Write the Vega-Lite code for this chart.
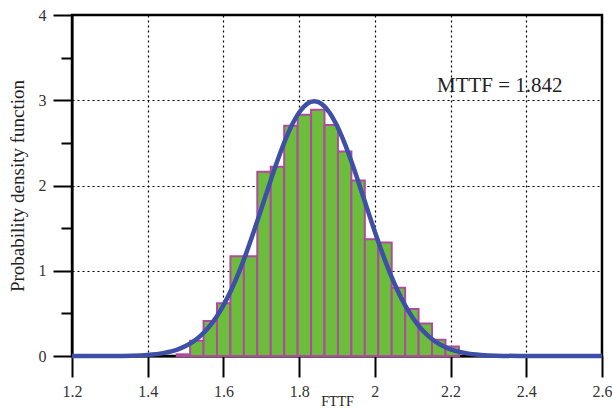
{
  "$schema": "https://vega.github.io/schema/vega-lite/v6.json",
  "width": 530,
  "height": 341,
  "autosize": {"type": "none"},
  "padding": {"left": 72, "top": 15, "right": 10, "bottom": 56},
  "background": "white",
  "config": {
    "font": "Liberation Serif",
    "view": {"stroke": "black", "strokeWidth": 2.5},
    "axis": {
      "domainColor": "black",
      "domainWidth": 2,
      "tickColor": "black",
      "tickWidth": 2,
      "labelFont": "Liberation Serif",
      "labelFontSize": 16,
      "labelColor": "#333",
      "titleFont": "Liberation Serif",
      "titleFontWeight": "normal",
      "titleColor": "#222",
      "gridColor": "black",
      "gridDash": [2, 3],
      "gridWidth": 1.2
    }
  },
  "datasets": {
    "histogram": [
      {"lo": 1.4765, "hi": 1.512, "density": 0.02},
      {"lo": 1.512, "hi": 1.5475, "density": 0.18},
      {"lo": 1.5475, "hi": 1.583, "density": 0.41},
      {"lo": 1.583, "hi": 1.6185, "density": 0.62},
      {"lo": 1.6185, "hi": 1.654, "density": 1.17},
      {"lo": 1.654, "hi": 1.6895, "density": 1.17},
      {"lo": 1.6895, "hi": 1.725, "density": 2.16},
      {"lo": 1.725, "hi": 1.7605, "density": 2.22},
      {"lo": 1.7605, "hi": 1.796, "density": 2.70},
      {"lo": 1.796, "hi": 1.8315, "density": 2.83},
      {"lo": 1.8315, "hi": 1.867, "density": 2.89},
      {"lo": 1.867, "hi": 1.9025, "density": 2.71},
      {"lo": 1.9025, "hi": 1.938, "density": 2.40},
      {"lo": 1.938, "hi": 1.9735, "density": 2.06},
      {"lo": 1.9735, "hi": 2.009, "density": 1.37},
      {"lo": 2.009, "hi": 2.0445, "density": 1.33},
      {"lo": 2.0445, "hi": 2.08, "density": 0.80},
      {"lo": 2.08, "hi": 2.1155, "density": 0.55},
      {"lo": 2.1155, "hi": 2.151, "density": 0.38},
      {"lo": 2.151, "hi": 2.1865, "density": 0.19},
      {"lo": 2.1865, "hi": 2.222, "density": 0.11}
    ],
    "fitted": [
      {"fttf": 1.2, "pdf": 0},
      {"fttf": 1.3, "pdf": 0.0007},
      {"fttf": 1.36, "pdf": 0.004},
      {"fttf": 1.4, "pdf": 0.013},
      {"fttf": 1.44, "pdf": 0.034},
      {"fttf": 1.48, "pdf": 0.079},
      {"fttf": 1.5, "pdf": 0.117},
      {"fttf": 1.52, "pdf": 0.169},
      {"fttf": 1.54, "pdf": 0.239},
      {"fttf": 1.56, "pdf": 0.331},
      {"fttf": 1.58, "pdf": 0.448},
      {"fttf": 1.6, "pdf": 0.594},
      {"fttf": 1.62, "pdf": 0.769},
      {"fttf": 1.64, "pdf": 0.973},
      {"fttf": 1.66, "pdf": 1.204},
      {"fttf": 1.68, "pdf": 1.457},
      {"fttf": 1.7, "pdf": 1.724},
      {"fttf": 1.72, "pdf": 1.995},
      {"fttf": 1.74, "pdf": 2.257},
      {"fttf": 1.76, "pdf": 2.497},
      {"fttf": 1.78, "pdf": 2.701},
      {"fttf": 1.8, "pdf": 2.857},
      {"fttf": 1.82, "pdf": 2.955},
      {"fttf": 1.84, "pdf": 2.988},
      {"fttf": 1.86, "pdf": 2.955},
      {"fttf": 1.88, "pdf": 2.857},
      {"fttf": 1.9, "pdf": 2.701},
      {"fttf": 1.92, "pdf": 2.497},
      {"fttf": 1.94, "pdf": 2.257},
      {"fttf": 1.96, "pdf": 1.995},
      {"fttf": 1.98, "pdf": 1.724},
      {"fttf": 2.0, "pdf": 1.457},
      {"fttf": 2.02, "pdf": 1.204},
      {"fttf": 2.04, "pdf": 0.973},
      {"fttf": 2.06, "pdf": 0.769},
      {"fttf": 2.08, "pdf": 0.594},
      {"fttf": 2.1, "pdf": 0.448},
      {"fttf": 2.12, "pdf": 0.331},
      {"fttf": 2.14, "pdf": 0.239},
      {"fttf": 2.16, "pdf": 0.169},
      {"fttf": 2.18, "pdf": 0.117},
      {"fttf": 2.2, "pdf": 0.079},
      {"fttf": 2.24, "pdf": 0.034},
      {"fttf": 2.28, "pdf": 0.013},
      {"fttf": 2.32, "pdf": 0.004},
      {"fttf": 2.38, "pdf": 0.0007},
      {"fttf": 2.6, "pdf": 0}
    ],
    "note": [
      {"fttf": 2.33, "pdf": 3.17, "text": "MTTF = 1.842"}
    ]
  },
  "layer": [
    {
      "data": {"name": "histogram"},
      "mark": {"type": "rect", "fill": "#6cbd3c", "stroke": "#b04a9e", "strokeWidth": 2},
      "encoding": {
        "x": {
          "field": "lo",
          "type": "quantitative",
          "title": "FTTF",
          "scale": {"domain": [1.2, 2.6], "nice": false, "zero": false},
          "axis": {
            "titleFontSize": 14,
            "titlePadding": -5,
            "values": [1.2, 1.3, 1.4, 1.5, 1.6, 1.7, 1.8, 1.9, 2.0, 2.1, 2.2, 2.3, 2.4, 2.5, 2.6],
            "labelExpr": "round(datum.value * 10) % 2 === 0 ? format(datum.value, '~g') : ''",
            "tickSize": {"condition": {"test": "round(datum.value * 10) % 2 === 0", "value": 21}, "value": 12},
            "labelPadding": 6,
            "labelFlush": false,
            "labelOverlap": false,
            "grid": true,
            "gridOpacity": {"condition": {"test": "round(datum.value * 10) % 2 === 0 && datum.value > 1.25 && datum.value < 2.55", "value": 1}, "value": 0}
          }
        },
        "x2": {"field": "hi"},
        "y": {
          "field": "density",
          "type": "quantitative",
          "title": "Probability density function",
          "scale": {"domain": [0, 4], "nice": false},
          "axis": {
            "titleFontSize": 19,
            "titlePadding": 11,
            "values": [0, 0.5, 1, 1.5, 2, 2.5, 3, 3.5, 4],
            "labelExpr": "datum.value % 1 === 0 ? format(datum.value, '~g') : ''",
            "tickSize": {"condition": {"test": "datum.value % 1 === 0", "value": 19}, "value": 11},
            "labelPadding": 7,
            "labelOverlap": false,
            "labelFlush": false,
            "grid": true,
            "gridOpacity": {"condition": {"test": "datum.value % 1 === 0 && datum.value > 0 && datum.value < 4", "value": 1}, "value": 0}
          }
        },
        "y2": {"datum": 0}
      }
    },
    {
      "data": {"name": "fitted"},
      "mark": {"type": "line", "color": "#3d4fa6", "strokeWidth": 4.5, "interpolate": "monotone"},
      "encoding": {
        "x": {"field": "fttf", "type": "quantitative", "title": "FTTF"},
        "y": {"field": "pdf", "type": "quantitative", "title": "Probability density function"}
      }
    },
    {
      "data": {"name": "note"},
      "mark": {"type": "text", "fontSize": 21, "font": "Liberation Serif", "color": "#222"},
      "encoding": {
        "x": {"field": "fttf", "type": "quantitative", "title": "FTTF"},
        "y": {"field": "pdf", "type": "quantitative", "title": "Probability density function"},
        "text": {"field": "text"}
      }
    }
  ]
}
